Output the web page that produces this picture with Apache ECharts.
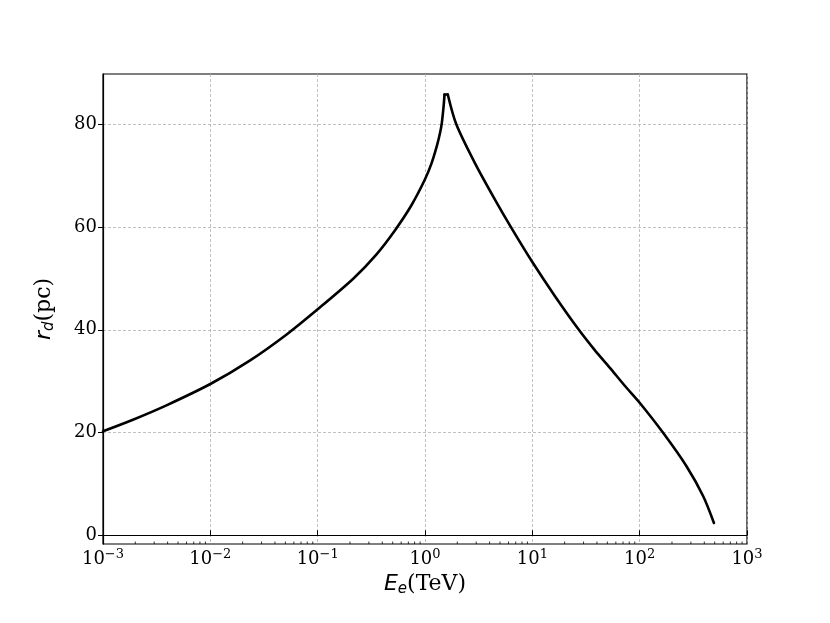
<!DOCTYPE html>
<html>
<head>
<meta charset="utf-8">
<script src="https://cdn.jsdelivr.net/npm/echarts@6/dist/echarts.min.js"></script>
<style>
  html, body { margin: 0; padding: 0; background: #fff; }
  #chart { width: 830px; height: 623px; }
</style>
</head>
<body>
<div id="chart"></div>
<script>
// electron energy (TeV)
var energy = [0.001, 0.0019, 0.0039, 0.0101, 0.0233, 0.0514, 0.1, 0.2155, 0.35, 0.526, 0.75,
  1.0, 1.15, 1.29, 1.38, 1.435, 1.49, 1.52, 1.63, 1.957, 2.91, 4.47, 6.4, 10, 16.2, 26.7,
  38, 52.8, 72, 100, 166, 274, 391, 492];
// diffusion radius r_d (pc)
var radius = [20.25, 22.5, 25.3, 29.5, 34.0, 39.1, 44.0, 50.0, 54.6, 59.4, 64.3,
  69.3, 72.4, 75.8, 78.3, 80.3, 83.5, 85.8, 85.8, 80.0, 72.5, 65.4, 59.8, 53.2, 46.6, 40.2,
  36.1, 32.6, 29.2, 25.8, 19.9, 13.4, 7.6, 2.4];
var yTicks = [0, 20, 40, 60, 80];
var xTicks = [0.001, 0.01, 0.1, 1, 10, 100, 1000];

var serif = 'DejaVu Serif';
var data = energy.map(function (e, i) { return [e, radius[i]]; });
// the flat top of the curve: smooth both flanks, keep the cusp sharp
var topStart = energy.indexOf(1.52);
var topEnd = energy.indexOf(1.63);

function expLabel(v) {
  var p = Math.round(Math.log10(v));
  var s = p < 0 ? '\u2212' + (-p) : String(p);
  return '{b|10}{s|' + s + '}';
}

var titleRich = {
  i: { fontFamily: 'DejaVu Sans', fontStyle: 'italic', fontSize: 22, color: '#000' },
  sub: { fontFamily: 'DejaVu Sans', fontStyle: 'italic', fontSize: 15, color: '#000', padding: [10, 0, 0, 0] },
  n: { fontFamily: serif, fontSize: 22, color: '#000' }
};
var gridLine = { show: true, lineStyle: { color: '#b0b0b0', width: 0.8, type: [3, 2] } };

function curve(part, smooth) {
  return {
    type: 'line',
    data: part,
    showSymbol: false,
    smooth: smooth,
    lineStyle: { color: '#000', width: 2.6, cap: 'round', join: 'round' },
    z: 5
  };
}

var chart = echarts.init(document.getElementById('chart'));
var option = {
  animation: false,
  grid: {
    left: 103, right: 83, top: 74, bottom: 79,
    show: true, borderColor: '#000', borderWidth: 1.2, backgroundColor: 'transparent'
  },
  xAxis: {
    type: 'log',
    logBase: 10,
    min: 0.001,
    max: 1000,
    name: '{i|E}{sub|e}{n|(TeV)}',
    nameLocation: 'middle',
    nameGap: 24,
    nameTextStyle: { rich: titleRich },
    axisLine: { show: true, lineStyle: { color: '#000', width: 1.2 } },
    axisTick: { show: true, inside: true, length: 5, customValues: xTicks, lineStyle: { color: '#000', width: 1 } },
    axisLabel: {
      customValues: xTicks,
      margin: 4,
      formatter: expLabel,
      rich: {
        b: { fontFamily: serif, fontSize: 18, color: '#000' },
        s: { fontFamily: serif, fontSize: 13, color: '#000', padding: [0, 0, 9, 0] }
      }
    },
    splitLine: gridLine
  },
  yAxis: {
    type: 'value',
    min: -1.7,
    max: 89.8,
    name: '{i|r}{sub|d}{n|(pc)}',
    nameLocation: 'middle',
    nameGap: 46,
    nameTextStyle: { rich: titleRich },
    axisLine: { show: true, lineStyle: { color: '#000', width: 1.2 } },
    axisTick: { show: true, length: 5, customValues: yTicks, lineStyle: { color: '#000', width: 1 } },
    axisLabel: {
      customValues: yTicks,
      margin: 6,
      fontFamily: serif, fontSize: 18, color: '#000'
    },
    splitLine: gridLine
  },
  series: [
    curve(data.slice(0, topStart + 1), 0.3),
    curve(data.slice(topStart, topEnd + 1), false),
    curve(data.slice(topEnd), 0.3)
  ]
};
chart.setOption(option);

// minor log ticks on the x axis (2..9 in each decade), placed through the axis scale
var minor = [];
var yBase = chart.convertToPixel({ yAxisIndex: 0 }, -1.7);
for (var d = -3; d < 3; d++) {
  for (var k = 2; k <= 9; k++) {
    var px = chart.convertToPixel({ xAxisIndex: 0 }, k * Math.pow(10, d));
    minor.push({
      type: 'line',
      shape: { x1: px, y1: yBase, x2: px, y2: yBase - 2.5 },
      style: { stroke: '#000', lineWidth: 0.8 },
      z: 10
    });
  }
}
chart.setOption({ graphic: minor });
</script>
</body>
</html>
